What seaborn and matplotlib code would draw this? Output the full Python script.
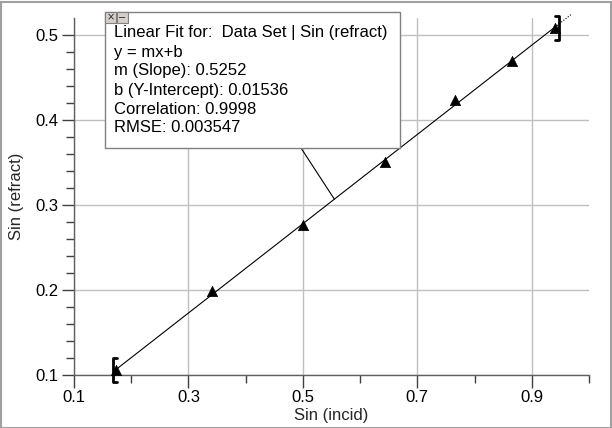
import matplotlib
matplotlib.use("Agg")
import matplotlib.pyplot as plt
from matplotlib.patches import Rectangle, ConnectionPatch
import seaborn as sns
import numpy as np
import pandas as pd

# ---- data ----
sin_incid = [0.1736, 0.342, 0.500, 0.643, 0.766, 0.866, 0.940]
sin_refract = [0.106, 0.199, 0.276, 0.351, 0.423, 0.470, 0.508]
slope = 0.5252
intercept = 0.01536
fit_lines = ["Linear Fit for:  Data Set | Sin (refract)",
             "y = mx+b",
             "m (Slope): 0.5252",
             "b (Y-Intercept): 0.01536",
             "Correlation: 0.9998",
             "RMSE: 0.003547"]
x_ticks = [0.1, 0.3, 0.5, 0.7, 0.9]
y_ticks = [0.1, 0.2, 0.3, 0.4, 0.5]
x_label = "Sin (incid)"
y_label = "Sin (refract)"

sns.set_style("white")
plt.rcParams['font.family'] = ['Liberation Sans', 'DejaVu Sans']

W, H = 612, 428
fig = plt.figure(figsize=(W / 100, H / 100), dpi=100)
fig.patch.set_facecolor("white")

def fx(px):
    return px / W

def fy(py):
    return 1 - py / H

ax = fig.add_axes([fx(74), fy(375), fx(589) - fx(74), fy(18) - fy(375)])

df = pd.DataFrame({"x": sin_incid, "y": sin_refract})
x0, x1 = sin_incid[0], sin_incid[-1]
fit_df = pd.DataFrame({"x": [x0, x1], "y": [slope * x0 + intercept, slope * x1 + intercept]})
xe = x1 + 0.03
ext_df = pd.DataFrame({"x": [x1, xe], "y": [slope * x1 + intercept, slope * xe + intercept]})

sns.lineplot(data=fit_df, x="x", y="y", ax=ax, color="black", linewidth=0.8, zorder=3)
sns.lineplot(data=ext_df, x="x", y="y", ax=ax, color="black", linewidth=0.8,
             linestyle=(0, (1, 1.5)), zorder=3)
ax.lines[-1].set_clip_on(False)
sns.scatterplot(data=df, x="x", y="y", ax=ax, marker="^", color="black", s=55,
                edgecolor="black", linewidth=0.5, zorder=4)

# brackets
bh = 0.014
bt = 0.007
lb = x0 - 0.006
ax.plot([lb + bt, lb, lb, lb + bt],
        [sin_refract[0] + bh, sin_refract[0] + bh, sin_refract[0] - bh, sin_refract[0] - bh],
        color="black", lw=2, clip_on=False, zorder=5)
rb = x1 + 0.008
ax.plot([rb - bt, rb, rb, rb - bt],
        [sin_refract[-1] + bh, sin_refract[-1] + bh, sin_refract[-1] - bh, sin_refract[-1] - bh],
        color="black", lw=2, clip_on=False, zorder=5)

ax.set_xlim(0.1, 1.0)
ax.set_ylim(0.1, 0.52)
ax.set_xticks(x_ticks)
ax.set_xticklabels([f"{v:.1f}" for v in x_ticks])
ax.set_xticks(np.arange(0.2, 1.01, 0.2), minor=True)
ax.set_yticks(y_ticks)
ax.set_yticklabels([f"{v:.1f}" for v in y_ticks])
ax.set_yticks(np.arange(0.12, 0.52, 0.02), minor=True)
ax.grid(True, which="major", color="#c0c0c0", linewidth=1)
ax.set_axisbelow(True)
for s in ["top", "right"]:
    ax.spines[s].set_visible(False)
for s in ["left", "bottom"]:
    ax.spines[s].set_color("#606060")
    ax.spines[s].set_linewidth(1)
ax.tick_params(which="major", direction="out", length=9, width=1, color="#404040",
               labelsize=12, labelcolor="black", pad=2, bottom=True, left=True)
ax.tick_params(which="minor", direction="out", length=6, width=1, color="#404040",
               bottom=True, left=True)
ax.set_xlabel(x_label, fontsize=12, labelpad=2)
ax.set_ylabel(y_label, fontsize=12, labelpad=8)

# annotation box
bx0, by0, bx1, by1 = 105, 12, 400, 148
fig.add_artist(Rectangle((fx(bx0), fy(by1)), fx(bx1) - fx(bx0), fy(by0) - fy(by1),
                         transform=fig.transFigure, facecolor="white",
                         edgecolor="#808080", linewidth=1, zorder=10))
for i, line in enumerate(fit_lines):
    fig.text(fx(114), fy(33 + i * 19), line, fontsize=12, va="center", ha="left",
             color="black", zorder=11)
# close / minimize buttons
for j, sym in enumerate(["×", "−"]):
    bx = 105 + j * 12
    fig.add_artist(Rectangle((fx(bx), fy(23)), fx(11), 11 / H, transform=fig.transFigure,
                             facecolor="#d4d0c8", edgecolor="#808080", linewidth=0.8, zorder=12))
    fig.text(fx(bx + 5.5), fy(17.5), sym, fontsize=7, ha="center", va="center",
             family=["DejaVu Sans"], zorder=13)

xa = 0.555
con = ConnectionPatch(xyA=(fx(301), fy(by1)), coordsA=fig.transFigure,
                      xyB=(xa, slope * xa + intercept), coordsB=ax.transData,
                      color="black", linewidth=0.8, zorder=9)
fig.add_artist(con)

# outer frame
fig.add_artist(Rectangle((0.5 / W, 0.5 / H), 1 - 2 / W, 1 - 2 / H, transform=fig.transFigure,
                         facecolor="none", edgecolor="#a0a0a0", linewidth=1.5))

fig.savefig("out.png", dpi=100)
